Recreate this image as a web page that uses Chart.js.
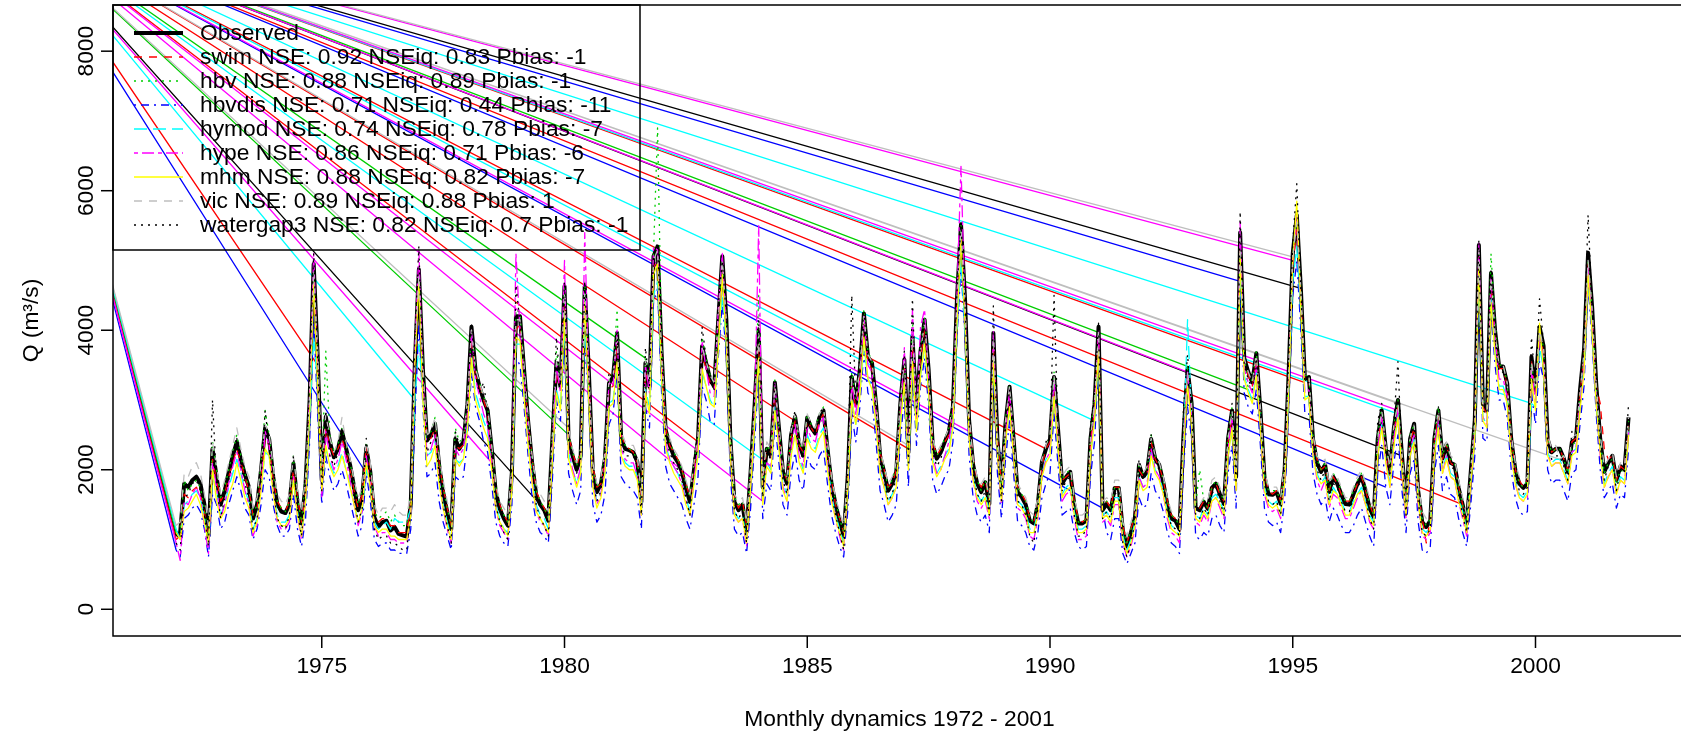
<!DOCTYPE html>
<html>
<head>
<meta charset="utf-8">
<script src="https://cdn.jsdelivr.net/npm/chart.js@4.4.1/dist/chart.umd.min.js"></script>
<style>
html, body { margin: 0; padding: 0; background: #fff; overflow: hidden; }
#wrap { width: 1690px; height: 732px; }
</style>
</head>
<body>
<div id="wrap"><canvas id="qChart" width="1690" height="732"></canvas></div>
<script>
// Monthly discharge (m3/s), Jan 1972 - Dec 2001, one row per year
const observed = [
    1050,1100,1800,1750,1850,1900,1800,1500,1050,2300,1900,1500,
    1700,1960,2200,2400,2150,1930,1750,1300,1500,2000,2600,2440,
    1900,1510,1400,1380,1500,2090,1520,1230,1800,3000,4950,3620,
    1850,2760,2400,2180,2300,2550,2310,2070,1750,1420,1610,2310,
    1970,1320,1180,1250,1270,1130,1180,1080,1060,1040,1510,3500,
    4870,3440,2420,2500,2660,2070,1680,1400,1150,2440,2300,2400,
    2940,4050,3430,3190,3000,2850,2300,1680,1440,1300,1200,1970,
    4200,4200,3440,2700,2100,1640,1500,1420,1270,2440,3530,3190,
    4630,2440,2200,2000,2200,4630,3430,1970,1680,1800,2160,3240,
    3330,3960,2440,2300,2280,2250,2110,1540,3530,3190,5060,5200,
    3670,2570,2350,2200,2110,1970,1740,1540,2000,2440,3770,3530,
    3300,3190,4150,5060,4150,2440,1540,1420,1500,1110,1970,2940,
    4000,1750,2300,2200,3250,2600,1970,1800,2500,2760,2360,2200,
    2750,2600,2520,2750,2850,2300,1800,1500,1270,1050,1900,3330,
    2940,3430,4240,3620,3530,2940,2200,1970,1700,1800,1970,2940,
    3580,2250,3910,2850,3700,4150,3430,2360,2160,2250,2400,2550,
    2900,4440,5520,4440,2710,2070,1800,1680,1820,1510,3960,2440,
    1740,2660,3190,2440,1680,1610,1500,1270,1230,1510,2110,2300,
    2440,3330,2570,1800,1900,1970,1500,1230,1230,1270,2440,2940,
    4050,1420,1510,1420,1740,1740,1130,900,1100,1320,2070,1900,
    1970,2440,2160,2070,1820,1500,1300,1270,1150,2500,3450,2950,
    1450,1420,1540,1440,1740,1800,1650,1510,2440,2850,1900,5400,
    3600,3400,3250,3670,2850,1900,1650,1640,1680,1510,2000,3400,
    5100,5650,4600,3300,3330,2440,2100,1970,2070,1680,1900,1800,
    1650,1510,1500,1650,1800,1900,1700,1450,1320,2440,2850,2300,
    1970,2600,3000,2200,1510,2440,2660,1700,1250,1180,1270,2440,
    2850,2160,2360,2100,2070,1740,1500,1230,1970,2710,5220,2940,
    2850,4820,4000,3480,3480,3240,2440,2000,1800,1740,1800,3620,
    3140,4050,3770,2440,2250,2300,2300,2160,1970,2400,2440,3140,
    3720,5110,4330,3240,2440,1970,2100,2200,1850,2050,2000,2750
];

const swim = [
    1000,1050,1650,1600,1700,1750,1650,1400,1000,2150,1850,1550,
    1650,1900,2100,2300,2100,1900,1700,1350,1450,1900,2450,2350,
    1850,1550,1450,1400,1550,2000,1600,1250,1700,2850,4700,3500,
    1900,2600,2350,2200,2300,2450,2250,2000,1700,1450,1650,2350,
    2000,1400,1250,1300,1300,1200,1200,1100,1100,1100,1550,3400,
    4700,3300,2450,2450,2600,2100,1750,1450,1200,2350,2300,2350,
    2850,3900,3350,3200,3000,2800,2250,1750,1500,1350,1250,1950,
    4000,4100,3350,2700,2150,1700,1550,1450,1300,2350,3400,3150,
    4400,2500,2250,2050,2250,4400,3300,2050,1750,1800,2150,3150,
    3200,3800,2500,2350,2300,2250,2100,1600,3400,3150,4900,5000,
    3600,2600,2350,2250,2150,2000,1800,1600,2000,2400,3650,3450,
    3250,3150,4050,4900,4050,2450,1600,1450,1550,1200,1950,2850,
    3800,1850,2300,2250,3150,2550,2000,1850,2450,2700,2350,2250,
    2700,2600,2500,2700,2800,2300,1850,1500,1300,1100,1900,3200,
    2900,3350,4100,3550,3450,2900,2250,2000,1750,1800,2000,2900,
    3450,2300,3800,2850,3600,4000,3350,2400,2200,2300,2400,2500,
    2850,4300,5300,4300,2750,2150,1850,1750,1850,1550,3800,2450,
    1800,2600,3100,2450,1750,1650,1550,1300,1250,1500,2050,2300,
    2400,3250,2550,1850,1900,1950,1550,1300,1250,1300,2400,2850,
    3900,1500,1550,1450,1750,1750,1200,950,1150,1350,2000,1900,
    1950,2400,2150,2050,1850,1550,1350,1300,1200,2450,3350,2900,
    1500,1450,1550,1450,1750,1800,1650,1550,2400,2750,1950,5200,
    3550,3350,3200,3600,2800,1950,1700,1650,1700,1550,2000,3300,
    4950,5450,4500,3250,3300,2450,2150,2000,2050,1700,1900,1800,
    1650,1550,1550,1650,1800,1900,1700,1500,1350,2400,2750,2300,
    1950,2550,2900,2200,1550,2400,2600,1700,1300,950,1300,2400,
    2800,2150,2350,2100,2050,1750,1500,1100,1950,2650,5100,2900,
    2800,4700,3900,3450,3450,3200,2450,2000,1850,1750,1850,3550,
    3100,3950,3700,2450,2250,2300,2300,2150,2000,2400,2450,3100,
    3650,4950,4250,3200,2950,2300,2150,2200,1850,2050,2000,2700
];

const hbv = [
    1100,1150,1850,1700,1800,1850,1750,1450,1000,2400,2000,1600,
    1750,2000,2250,2500,2200,1950,1750,1350,1500,2100,2850,2500,
    1950,1550,1450,1400,1550,2200,1600,1250,1850,3100,4900,3700,
    1950,3700,2500,2250,2350,2600,2350,2100,1800,1500,1700,2400,
    2050,1400,1300,1350,1400,1250,1350,1250,1200,1200,1650,3600,
    4800,3500,2500,2550,2750,2150,1750,1450,1200,2600,2400,2450,
    3000,4000,3500,3250,3050,2900,2350,1750,1500,1350,1250,2100,
    4300,4250,3500,2750,2150,1700,1550,1450,1300,2550,3700,3300,
    4600,2500,2250,2050,2300,4700,3450,2000,1750,1850,2250,3300,
    3400,4300,2500,2350,2300,2250,2150,1600,3600,3300,5100,6900,
    3800,2600,2400,2250,2150,2000,1800,1600,2100,2500,3900,3600,
    3350,3250,4250,5000,4200,2500,1600,1500,1550,1200,2050,3000,
    4500,1800,2350,2250,3300,2650,2000,1850,2550,2800,2400,2250,
    2800,2650,2600,2800,2900,2350,1850,1550,1300,1100,1950,3400,
    3000,3500,4300,3700,3550,3000,2250,2000,1750,1850,2050,3000,
    3600,2300,4150,2900,3750,4200,3450,2400,2200,2300,2450,2600,
    2950,4500,5500,4400,2750,2100,1850,1700,1850,1550,3950,2500,
    1800,2700,3200,2500,1750,1650,1550,1300,1250,1550,2150,2350,
    2500,3400,2600,1850,1950,2000,1550,1250,1250,1300,2500,3000,
    4000,1500,1550,1450,1750,1750,1150,950,1150,1350,2100,1950,
    2000,2500,2200,2100,1850,1550,1350,1300,1200,2550,3500,3000,
    1500,2000,1550,1450,1750,1850,1700,1550,2500,2900,1950,5400,
    3650,3150,3300,3700,2900,1950,1700,1700,1700,1550,2050,3450,
    5100,5600,4600,3350,3350,2500,2150,2000,2100,1700,1950,1850,
    1700,1550,1550,1700,1850,1950,1750,1500,1350,2500,2900,2350,
    2000,2650,3000,2250,1550,2500,2650,1750,1300,1200,1300,2500,
    2900,2200,2400,2150,2100,1750,1500,1250,2000,2750,5150,3000,
    2900,5100,4100,3500,3500,3250,2450,2050,1800,1750,1850,3500,
    3150,4000,3750,2450,2250,2300,2300,2150,1950,2350,2400,3050,
    3650,5000,4300,3200,2450,1950,2100,2150,1800,2000,1950,2700
];

const hbvdis = [
    850,750,1300,1350,1450,1500,1400,1150,750,1650,1500,1150,
    1250,1500,1700,1900,1700,1450,1350,1000,1150,1500,2000,1900,
    1500,1200,1050,1050,1150,1650,1150,900,1300,2400,4200,2800,
    1500,2200,1900,1700,1800,2000,1800,1550,1300,1050,1200,1950,
    1550,1000,900,950,950,850,850,800,800,800,1150,2700,
    4100,2900,1900,1950,2100,1550,1250,1050,850,1900,1850,1900,
    2400,3400,2900,2700,2400,2250,1800,1250,1050,950,900,1500,
    3600,3500,2900,2200,1600,1250,1100,1050,950,1850,3000,2700,
    3900,1950,1700,1500,1700,4000,2900,1500,1250,1350,1650,2650,
    2800,3400,1900,1800,1750,1700,1600,1150,2900,2600,4400,4600,
    3100,2050,1800,1700,1600,1500,1300,1150,1500,1900,3200,3000,
    2700,2650,3600,4400,3600,1900,1150,1050,1100,800,1450,2400,
    3400,1300,1800,1700,2700,2100,1500,1350,1950,2250,1850,1700,
    2200,2050,2000,2200,2300,1800,1350,1100,900,750,1400,2800,
    2400,2900,3700,3100,3000,2400,1700,1500,1250,1350,1500,2400,
    3050,1750,3400,2350,3200,3600,2900,1850,1650,1750,1900,2000,
    2400,3900,4900,3900,2200,1600,1350,1250,1350,1100,3400,1950,
    1300,2150,2700,1950,1250,1200,1100,900,850,1100,1600,1800,
    1950,2800,2050,1350,1400,1450,1100,900,850,900,1900,2400,
    3500,1450,1100,1000,1300,1300,800,650,800,950,1600,1450,
    1500,1950,1700,1600,1400,1100,950,900,800,2000,2900,2450,
    1050,1000,1100,1050,1300,1350,1200,1100,1950,2350,1450,4700,
    3100,2900,2800,3150,2350,1450,1250,1200,1250,1100,1550,2900,
    4500,5000,4000,2800,2800,1950,1650,1500,1600,1250,1450,1350,
    1200,1100,1100,1200,1350,1450,1250,1050,900,1950,2350,1750,
    1500,2100,2500,1700,1100,1950,2150,1250,850,800,900,1950,
    2350,1700,1900,1650,1600,1300,1100,900,1500,2200,4600,2450,
    2400,4300,3500,3000,3000,2750,2000,1600,1400,1350,1400,3100,
    2650,3550,3300,2000,1800,1850,1850,1700,1550,1950,2000,2650,
    3200,4650,3850,2800,2000,1600,1700,1800,1450,1650,1600,2300
];

const hymod = [
    1150,1000,1500,1550,1650,1700,1600,1300,900,1900,1700,1350,
    1500,1750,1950,2150,1950,1700,1550,1150,1300,1750,2250,2200,
    1700,1350,1250,1250,1350,1850,1400,1050,1550,2700,3900,3200,
    1700,2300,2100,1950,2050,2250,2000,1800,1500,1250,1400,2000,
    1800,1250,1150,1200,1250,1150,1300,1250,1250,1250,1450,3000,
    3800,3100,2200,2250,2400,1850,1500,1250,1050,2150,2100,2150,
    2650,3600,3100,2900,2700,2550,2050,1500,1300,1150,1100,1750,
    3800,3800,3150,2450,1900,1500,1350,1300,1150,2200,3150,2900,
    4100,2250,2000,1800,2000,4100,3100,1800,1550,1650,1950,2950,
    3000,3500,2250,2100,2050,2050,1900,1400,3150,2900,4500,4700,
    3300,2350,2150,2050,1950,1800,1600,1400,1800,2250,3400,3200,
    3000,2900,3800,4500,3800,2250,1400,1300,1350,1000,1750,2650,
    3600,1600,2100,2000,2900,2350,1800,1650,2250,2500,2150,2000,
    2500,2350,2300,2500,2600,2100,1650,1350,1150,950,1700,3000,
    2650,3100,3800,3300,3200,2700,2000,1800,1550,1650,1800,2700,
    3250,2050,3500,2600,3350,3750,3100,2150,1950,2050,2200,2300,
    2650,4000,5000,4000,2500,1900,1650,1550,1650,1400,3600,2250,
    1600,2450,2900,2250,1550,1500,1400,1150,1150,1400,1950,2150,
    2250,3050,2350,1650,1750,1800,1400,1150,1150,1200,2250,2700,
    3650,1350,1400,1300,1600,1600,1050,850,1000,1250,1900,1750,
    1800,2250,2000,1900,1700,1400,1200,1150,1050,2350,4150,2750,
    1350,1300,1450,1350,1600,1650,1550,1400,2250,2600,1750,4900,
    3350,3150,3000,3400,2650,1750,1550,1500,1550,1400,1850,3150,
    4700,5200,4250,3050,3050,2250,1950,1800,1900,1550,1750,1650,
    1550,1400,1400,1550,1650,1750,1550,1350,1250,2250,2650,2150,
    1800,2400,2800,2050,1400,2250,2450,1600,1150,1100,1200,2250,
    2650,2000,2200,1950,1900,1600,1400,1150,1850,2500,4800,2750,
    2650,4450,3700,3200,3200,3000,2250,1850,1650,1600,1700,2950,
    2900,3750,3450,2250,2100,2150,2150,2000,1850,2250,2300,2950,
    3450,4750,4000,3000,2300,1800,1950,2050,1700,1900,1850,2550
];

const hype = [
    950,700,1550,1500,1650,1750,1600,1200,800,2100,1750,1300,
    1500,1800,2050,2250,2000,1700,1500,1050,1200,1750,2550,2350,
    1700,1250,1150,1150,1250,1900,1350,1000,1600,3100,5100,3400,
    1600,2550,2200,2000,2150,2400,2150,1850,1500,1200,1400,2200,
    1800,1200,1050,1100,1100,1000,1000,950,950,950,1400,3700,
    5150,3300,2200,2300,2500,1850,1450,1150,950,2300,2200,2300,
    2800,4000,3300,3050,2800,2650,2100,1450,1200,1100,1000,1850,
    5100,4000,3300,2500,1850,1400,1250,1200,1050,2300,3500,3100,
    5000,2300,2000,1800,2050,5400,3300,1800,1500,1650,2050,3250,
    3200,4000,2300,2150,2100,2100,1900,1350,3500,3100,5200,5150,
    3500,2400,2150,2050,1950,1800,1550,1350,1850,2350,3850,3450,
    3100,3050,4300,5100,4000,2250,1350,1250,1300,900,1800,2900,
    5500,1550,2100,2050,3250,2450,1750,1550,2300,2650,2200,2050,
    2600,2450,2400,2650,2750,2100,1600,1300,1050,850,1750,3250,
    2800,3300,4200,3500,3400,2800,2000,1750,1500,1600,1750,2800,
    3750,2050,4300,2700,4050,4300,3300,2200,1950,2000,2200,2400,
    2800,4500,6350,4300,2550,1850,1550,1450,1550,1300,4000,2250,
    1500,2500,3150,2250,1450,1400,1300,1050,1000,1300,1900,2150,
    2250,3300,2400,1550,1650,1700,1300,1000,1000,1050,2250,2850,
    4000,1250,1300,1200,1500,1500,950,750,900,1150,1900,1750,
    1800,2300,2000,1900,1650,1300,1100,1050,950,2400,3400,2750,
    1250,1200,1350,1250,1550,1600,1450,1300,2300,2750,1700,5550,
    3450,3250,3100,3500,2650,1650,1450,1400,1450,1300,1800,3300,
    5000,5650,4400,3100,3150,2250,1850,1700,1850,1450,1650,1600,
    1450,1300,1300,1450,1600,1700,1500,1250,1150,2300,2750,2150,
    1750,2450,2850,2000,1300,2300,2500,1500,1050,1000,1100,2300,
    2700,1950,2200,1900,1850,1550,1300,1050,1800,2600,5250,2750,
    2650,4750,3900,3300,3300,3050,2250,1800,1600,1550,1600,3450,
    2950,3900,3600,2250,2050,2100,2100,1950,1800,2250,2300,2950,
    3500,4900,4150,3050,2200,1750,1900,2000,1650,1850,1800,2550
];

const mhm = [
    1100,1000,1400,1450,1550,1650,1500,1250,950,2000,1550,1300,
    1400,1650,1800,2100,1850,1600,1450,1100,1250,1700,2300,2200,
    1650,1300,1200,1200,1300,1850,1350,1050,1550,2800,4700,3200,
    1700,2350,2050,1900,2000,2200,2000,1750,1500,1250,1450,2100,
    1750,1200,1100,1150,1150,1050,1050,1000,1000,1000,1350,3500,
    4700,3000,2050,2150,2350,1800,1450,1200,1000,2150,2050,2150,
    2550,3600,3000,2800,2600,2450,2000,1450,1250,1150,1050,1700,
    3900,3850,3050,2350,1800,1400,1300,1200,1100,2150,3100,2850,
    4250,2150,1950,1750,1950,4400,3000,1750,1450,1600,1950,2900,
    2950,3550,2200,2050,2000,2000,1850,1350,3100,2800,4800,4950,
    3300,2300,2100,1950,1850,1750,1500,1350,1800,2200,3450,3200,
    2950,2900,3700,4800,3800,2200,1350,1250,1300,950,1750,2650,
    3600,1500,2050,1950,2850,2300,1700,1550,2200,2500,2100,1950,
    2450,2300,2250,2450,2550,2000,1550,1300,1100,900,1700,3000,
    2650,3050,3900,3300,3150,2650,1950,1750,1500,1600,1750,2650,
    3250,2000,3550,2550,3350,3800,3100,2100,1900,2000,2150,2250,
    2600,4100,5300,4100,2450,1850,1600,1500,1600,1350,3600,2200,
    1550,2400,2900,2200,1500,1450,1350,1100,1100,1350,1900,2100,
    2200,3050,2300,1600,1700,1750,1350,1100,1100,1150,2200,2700,
    3700,1300,1350,1250,1550,1550,1000,800,950,1200,1850,1700,
    1750,2200,1950,1850,1650,1350,1150,1100,1050,2300,3200,2650,
    1300,1250,1400,1300,1550,1600,1500,1350,2200,2600,1700,5100,
    3300,3100,2950,3350,2600,1700,1500,1450,1500,1350,1800,3100,
    5000,5850,4300,3000,3050,2200,1900,1800,1850,1500,1700,1650,
    1500,1350,1350,1500,1650,1700,1500,1300,1200,2200,2600,2100,
    1750,2350,2750,2000,1350,2200,2400,1550,1100,1050,1150,2200,
    2600,1950,2150,1900,1850,1550,1350,1100,1800,2450,4950,2700,
    2600,4400,3650,3150,3150,2950,2200,1800,1600,1550,1650,3300,
    2850,4100,3400,2200,2050,2100,2100,1950,1800,2200,2250,2850,
    3400,4800,3950,2950,2250,1750,1900,2000,1650,1850,1800,2500
];

const vic = [
    1200,1250,1950,1900,2050,2100,1950,1650,1200,2400,2050,1650,
    1850,2100,2350,2600,2300,2050,1900,1450,1600,2100,2650,2500,
    2050,1650,1550,1500,1650,2200,1700,1400,1900,3050,4850,3700,
    2050,2800,2450,2250,2400,2750,2400,2150,1850,1600,1750,2400,
    2100,1500,1350,1450,1450,1400,1500,1400,1350,1350,1650,3600,
    4800,3500,2500,2550,2750,2200,1850,1550,1300,2500,2400,2450,
    3000,4000,3450,3250,3050,2900,2350,1800,1550,1450,1350,2050,
    4150,4150,3500,2750,2200,1800,1650,1550,1400,2500,3550,3250,
    4550,2600,2300,2100,2300,4550,3450,2100,1800,1900,2250,3300,
    3350,3900,2550,2400,2350,2350,2200,1650,3550,3250,5000,5150,
    3700,2650,2450,2300,2200,2050,1850,1650,2100,2500,3750,3550,
    3350,3250,4150,5000,4150,2550,1650,1550,1600,1250,2050,2950,
    3950,1900,2400,2300,3200,2650,2050,1900,2550,2800,2450,2300,
    2800,2650,2600,2800,2900,2400,1900,1600,1400,1200,1950,3300,
    3000,3450,4200,3650,3550,3000,2300,2050,1800,1900,2100,3000,
    3550,2350,3900,2900,3700,4100,3450,2450,2250,2350,2450,2600,
    2950,4400,5450,4400,2800,2150,1900,1800,1900,1600,3900,2500,
    1850,2700,3200,2500,1800,1700,1600,1400,1350,1600,2150,2350,
    2500,3350,2600,1900,2000,2050,1600,1350,1350,1400,2450,2950,
    4000,1550,1600,1550,1850,1850,1250,1050,1250,1450,2100,1950,
    2050,2450,2200,2100,1900,1600,1400,1350,1300,2500,3400,2950,
    1550,1500,1600,1550,1850,1900,1750,1600,2450,2850,2000,5300,
    3600,3400,3250,3650,2900,2000,1750,1750,1750,1600,2100,3400,
    5050,5550,4600,3350,3350,2500,2200,2100,2150,1800,1950,1900,
    1750,1600,1600,1750,1900,2000,1800,1600,1450,2450,2850,2350,
    2050,2650,2950,2250,1600,2450,2650,1800,1400,1300,1400,2450,
    2850,2250,2400,2200,2150,1850,1600,1350,2000,2700,5150,2950,
    2850,4750,3950,3500,3500,3250,2500,2100,1900,1850,1900,3550,
    3150,4000,3750,2500,2300,2350,2150,2200,2050,2450,2500,3100,
    3700,5000,4300,3250,2500,2050,2150,2250,1900,2100,2050,2750
];

const watergap3 = [
    950,850,1600,1650,1800,1850,1700,1350,900,3000,1800,1300,
    1600,1850,2150,2450,2050,1800,1600,1150,1300,1850,2850,2350,
    1750,1300,1200,1150,1350,2200,1400,1050,1750,3300,5100,3500,
    1700,2850,2200,2050,2250,2600,2250,1950,1600,1250,1450,2450,
    1850,1150,1000,1050,1050,950,950,900,850,850,1400,3900,
    5200,3300,2250,2400,2600,1900,1500,1200,950,2550,2350,2400,
    2900,4100,3350,3100,3250,2800,2200,1500,1250,1100,1000,2050,
    4650,4100,3350,2600,2000,1500,1300,1200,1050,2700,3900,3200,
    4700,2400,2150,1950,2150,4700,3350,1850,1550,1700,2250,3400,
    3300,4000,2350,2200,2200,2200,2050,1350,3750,3200,5100,5250,
    3600,2450,2250,2100,2000,1850,1600,1350,2150,2550,4050,3600,
    3250,3150,4350,5000,4200,2350,1400,1300,1400,950,2050,3100,
    4150,1600,2250,2150,3250,2550,1850,1650,2600,2850,2300,2150,
    2750,2600,2550,2800,2900,2250,1650,1350,1100,850,1900,4500,
    3000,3650,4250,3600,3500,2900,2100,1850,1550,1650,1900,3100,
    3700,2100,4450,2800,3800,4100,3350,2250,2050,2150,2400,2600,
    3000,4550,5550,4350,2650,1950,1650,1550,1700,1350,4350,2300,
    1550,2600,3150,2350,1550,1500,1350,1050,950,1450,2150,2400,
    2500,4500,2500,1700,1850,1900,1350,1050,1050,1150,2650,3100,
    4100,1300,1400,1300,1650,1700,950,750,950,1250,2150,1850,
    1950,2500,2100,2000,1750,1400,1200,1150,1050,2900,3650,2900,
    1350,1300,1450,1350,1650,1750,1550,1350,2600,2950,1800,5700,
    3500,3300,3150,3600,2800,1800,1550,1500,1550,1350,2050,3650,
    5250,6100,4550,3250,3250,2350,2000,1850,2000,1550,1800,1750,
    1550,1400,1400,1600,1750,1850,1600,1300,1150,2700,2950,2250,
    1900,2700,3550,2150,1350,2500,2650,1550,1100,1050,1150,2500,
    2900,2100,2350,2050,2000,1650,1350,1100,2000,2800,5300,2850,
    2800,4850,3900,3400,3400,3200,2350,1900,1700,1650,1750,3900,
    3200,4450,3800,2350,2150,2200,2200,2050,1850,2550,2450,3250,
    3800,5650,4300,3200,2350,1850,2050,2150,1700,2000,1950,2950
];

const legendLabels = [
    'Observed',
    'swim NSE: 0.92 NSEiq: 0.83 Pbias: -1',
    'hbv NSE: 0.88 NSEiq: 0.89 Pbias: -1',
    'hbvdis NSE: 0.71 NSEiq: 0.44 Pbias: -11',
    'hymod NSE: 0.74 NSEiq: 0.78 Pbias: -7',
    'hype NSE: 0.86 NSEiq: 0.71 Pbias: -6',
    'mhm NSE: 0.88 NSEiq: 0.82 Pbias: -7',
    'vic NSE: 0.89 NSEiq: 0.88 Pbias: 1',
    'watergap3 NSE: 0.82 NSEiq: 0.7 Pbias: -1'
];

const xTicks = [1975, 1980, 1985, 1990, 1995, 2000];
const yTicks = [0, 2000, 4000, 6000, 8000];

// every series was also joined to one bad record far off the plot (upper left)
const strayPoint = { x: 1968.7, y: 9900 };
// month indices (0 = Jan 1972) that got a line to the stray record
const strayObserved = [0, 90, 278, 303];
const straySwim = [0, 35, 129, 153, 181, 215, 279, 318];
const strayHbv = [0, 97, 116, 265];
const strayHbvdis = [0, 47, 229, 263, 299];
const strayHymod = [0, 59, 146, 180, 227, 302, 335];
const strayHype = [0, 78, 128, 145, 196, 250, 276, 302];
const strayMhm = [0];
const strayVic = [0, 97, 181, 276, 302, 342];
const strayWatergap3 = [0];

const firstYear = 1972;
const fontFamily = '"Liberation Sans", Arial, Helvetica, sans-serif';
const textFont = '22.8px ' + fontFamily;

function toPoints(values) {
    return values.map((v, i) => ({ x: firstYear + i / 12, y: v }));
}

function strayLines(values, months) {
    const pts = [];
    months.forEach((m, k) => {
        if (k > 0) pts.push(strayPoint);
        pts.push({ x: firstYear + m / 12, y: values[m] });
    });
    return pts;
}

const series = [
    { label: legendLabels[0], values: observed, stray: strayObserved, color: '#000000', width: 4, dash: [] },
    { label: legendLabels[1], values: swim, stray: straySwim, color: '#FF0000', width: 1.3, dash: [8, 7] },
    { label: legendLabels[2], values: hbv, stray: strayHbv, color: '#00CD00', width: 1.3, dash: [2, 5] },
    { label: legendLabels[3], values: hbvdis, stray: strayHbvdis, color: '#0000FF', width: 1.3, dash: [2, 5, 8, 5] },
    { label: legendLabels[4], values: hymod, stray: strayHymod, color: '#00FFFF', width: 1.3, dash: [13, 6] },
    { label: legendLabels[5], values: hype, stray: strayHype, color: '#FF00FF', width: 1.3, dash: [4, 4, 12, 4] },
    { label: legendLabels[6], values: mhm, stray: strayMhm, color: '#FFFF00', width: 1.3, dash: [] },
    { label: legendLabels[7], values: vic, stray: strayVic, color: '#BEBEBE', width: 1.3, dash: [8, 7] },
    { label: legendLabels[8], values: watergap3, stray: strayWatergap3, color: '#000000', width: 1.3, dash: [2, 5] }
];

const datasets = [];
series.forEach((s, i) => {
    datasets.push({
        label: s.label,
        data: toPoints(s.values),
        borderColor: s.color,
        borderWidth: s.width,
        borderDash: s.dash,
        borderJoinStyle: 'round',
        borderCapStyle: 'butt',
        order: 20 - i
    });
});
series.forEach((s, i) => {
    datasets.push({
        label: s.label + ' (stray)',
        data: strayLines(s.values, s.stray),
        borderColor: s.color,
        borderWidth: 1.3,
        borderDash: [],
        order: 40 - i
    });
});

// R style frame, axes and legend
const rFrame = {
    id: 'rFrame',
    afterDraw(chart) {
        const { ctx, chartArea: area } = chart;
        const x = chart.scales.x;
        const y = chart.scales.y;
        ctx.save();
        ctx.setLineDash([]);
        ctx.strokeStyle = '#000';
        ctx.fillStyle = '#000';
        ctx.lineWidth = 1.5;
        ctx.strokeRect(area.left, area.top, area.right - area.left, area.bottom - area.top);

        ctx.font = textFont;
        ctx.textAlign = 'center';
        ctx.textBaseline = 'middle';
        xTicks.forEach(v => {
            const px = x.getPixelForValue(v);
            ctx.beginPath();
            ctx.moveTo(px, area.bottom);
            ctx.lineTo(px, area.bottom + 12);
            ctx.stroke();
            ctx.fillText(String(v), px, area.bottom + 31);
        });
        ctx.fillText('Monthly dynamics 1972 - 2001', (area.left + area.right) / 2, area.bottom + 84);

        yTicks.forEach(v => {
            const py = y.getPixelForValue(v);
            ctx.beginPath();
            ctx.moveTo(area.left, py);
            ctx.lineTo(area.left - 12, py);
            ctx.stroke();
            ctx.save();
            ctx.translate(area.left - 26, py);
            ctx.rotate(-Math.PI / 2);
            ctx.fillText(String(v), 0, 0);
            ctx.restore();
        });
        ctx.save();
        ctx.translate(area.left - 81, (area.top + area.bottom) / 2);
        ctx.rotate(-Math.PI / 2);
        ctx.fillText('Q (m³/s)', 0, 0);
        ctx.restore();

        // legend
        const boxW = 527, boxH = 245;
        ctx.lineWidth = 1.5;
        ctx.strokeRect(area.left, area.top, boxW, boxH);
        ctx.textAlign = 'left';
        series.forEach((s, i) => {
            const ly = area.top + 28 + i * 24;
            ctx.save();
            ctx.strokeStyle = s.color;
            ctx.lineWidth = s.width;
            ctx.setLineDash(s.dash);
            ctx.lineCap = 'butt';
            ctx.beginPath();
            ctx.moveTo(area.left + 21, ly);
            ctx.lineTo(area.left + 70, ly);
            ctx.stroke();
            ctx.restore();
            ctx.fillText(s.label, area.left + 87, ly + 1);
        });
        ctx.restore();
    }
};

new Chart(document.getElementById('qChart'), {
    type: 'line',
    data: { datasets },
    options: {
        responsive: false,
        animation: false,
        devicePixelRatio: 1,
        layout: { padding: { left: 113, top: 5, right: 4, bottom: 96 } },
        elements: {
            point: { radius: 0, hoverRadius: 0 },
            line: { tension: 0, fill: false }
        },
        plugins: {
            legend: { display: false },
            tooltip: { enabled: false }
        },
        scales: {
            x: { type: 'linear', display: false, min: 1970.7, max: 2003.1 },
            y: { type: 'linear', display: false, min: -383, max: 8662 }
        }
    },
    plugins: [rFrame]
});
</script>
</body>
</html>
